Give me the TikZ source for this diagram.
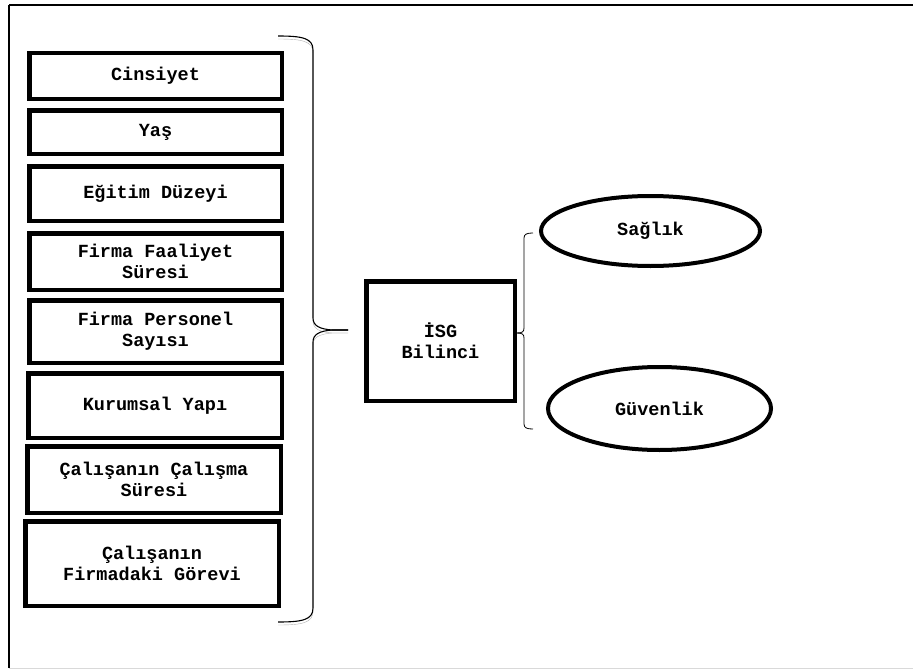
\documentclass[tikz,border=0pt]{standalone}
\usepackage{fontspec}
\setmainfont{Liberation Mono}
\usetikzlibrary{shapes.geometric}
\begin{document}
\begin{tikzpicture}[x=1pt,y=-1pt,
  factor/.style={draw, line width=4.5pt, minimum width=252.5pt, inner sep=0pt, align=center, font=\fontsize{18.5}{21}\selectfont\bfseries},
  oval/.style={draw, ellipse, line width=4pt, inner sep=0pt, font=\fontsize{18.5}{21}\selectfont\bfseries},
  shadowed/.style={preaction={draw, black!30, transform canvas={yshift=-3pt}}}]
\useasboundingbox (0,0) rectangle (913,669);
\draw[line width=1.2pt] (9,5) -- (913,5);
\draw[line width=1.2pt] (9,5) -- (9,668);
\draw[black!15, line width=1pt] (9,668) -- (913,668);

\node[factor, minimum height=45.5pt] (cins) at (155.5,76) {Cinsiyet};
\node[factor, minimum height=43.5pt] (yas) at (155.5,132) {Yaş};
\node[factor, minimum height=54.5pt] (egitim) at (155.5,193.5) {Eğitim Düzeyi};
\node[factor, minimum height=56.5pt] (faaliyet) at (155.5,261.5) {Firma Faaliyet\\Süresi};
\node[factor, minimum height=62.5pt] (personel) at (155.5,331.5) {Firma Personel\\Sayısı};
\node[factor, minimum height=64.5pt, minimum width=253.5pt] (kurum) at (155,405.5) {Kurumsal Yapı};
\node[factor, minimum height=66.5pt, minimum width=253.5pt] (sure) at (154,479.5) {Çalışanın Çalışma\\Süresi};
\node[factor, minimum height=84.5pt, minimum width=253.5pt] (gorev) at (152,563.5) {Çalışanın\\Firmadaki Görevi};

\node[factor, minimum width=148.5pt, minimum height=119.5pt] (isg) at (440.5,341) {İSG\\Bilinci};

\node[oval, minimum width=219pt, minimum height=70pt] (saglik) at (650.5,231) {Sağlık};
\node[oval, minimum width=223pt, minimum height=83pt] (guvenlik) at (659.5,408.5) {Güvenlik};

% left brace
\coordinate (tip) at (348,330);
\draw[line width=1.1pt, shadowed] (278,36) .. controls (302,36) and (313,38) .. (313,50) -- (313,318)
  .. controls (313,326) and (320,329) .. (332,330) -- (tip);
\draw[line width=1.1pt, shadowed] (tip) -- (332,330) .. controls (320,331) and (313,334) .. (313,342) -- (313,608)
  .. controls (313,620) and (302,622) .. (278,622);

% right brace
\coordinate (cusp) at (517,333);
\draw[line width=0.8pt] (533,233) .. controls (527,233) and (524,234) .. (524,238) -- (524,328)
  .. controls (524,332) and (522,333) .. (cusp);
\draw[line width=0.8pt] (cusp) .. controls (522,333) and (524,334) .. (524,338) -- (524,424)
  .. controls (524,428) and (527,429) .. (533,429);
\end{tikzpicture}
\end{document}
